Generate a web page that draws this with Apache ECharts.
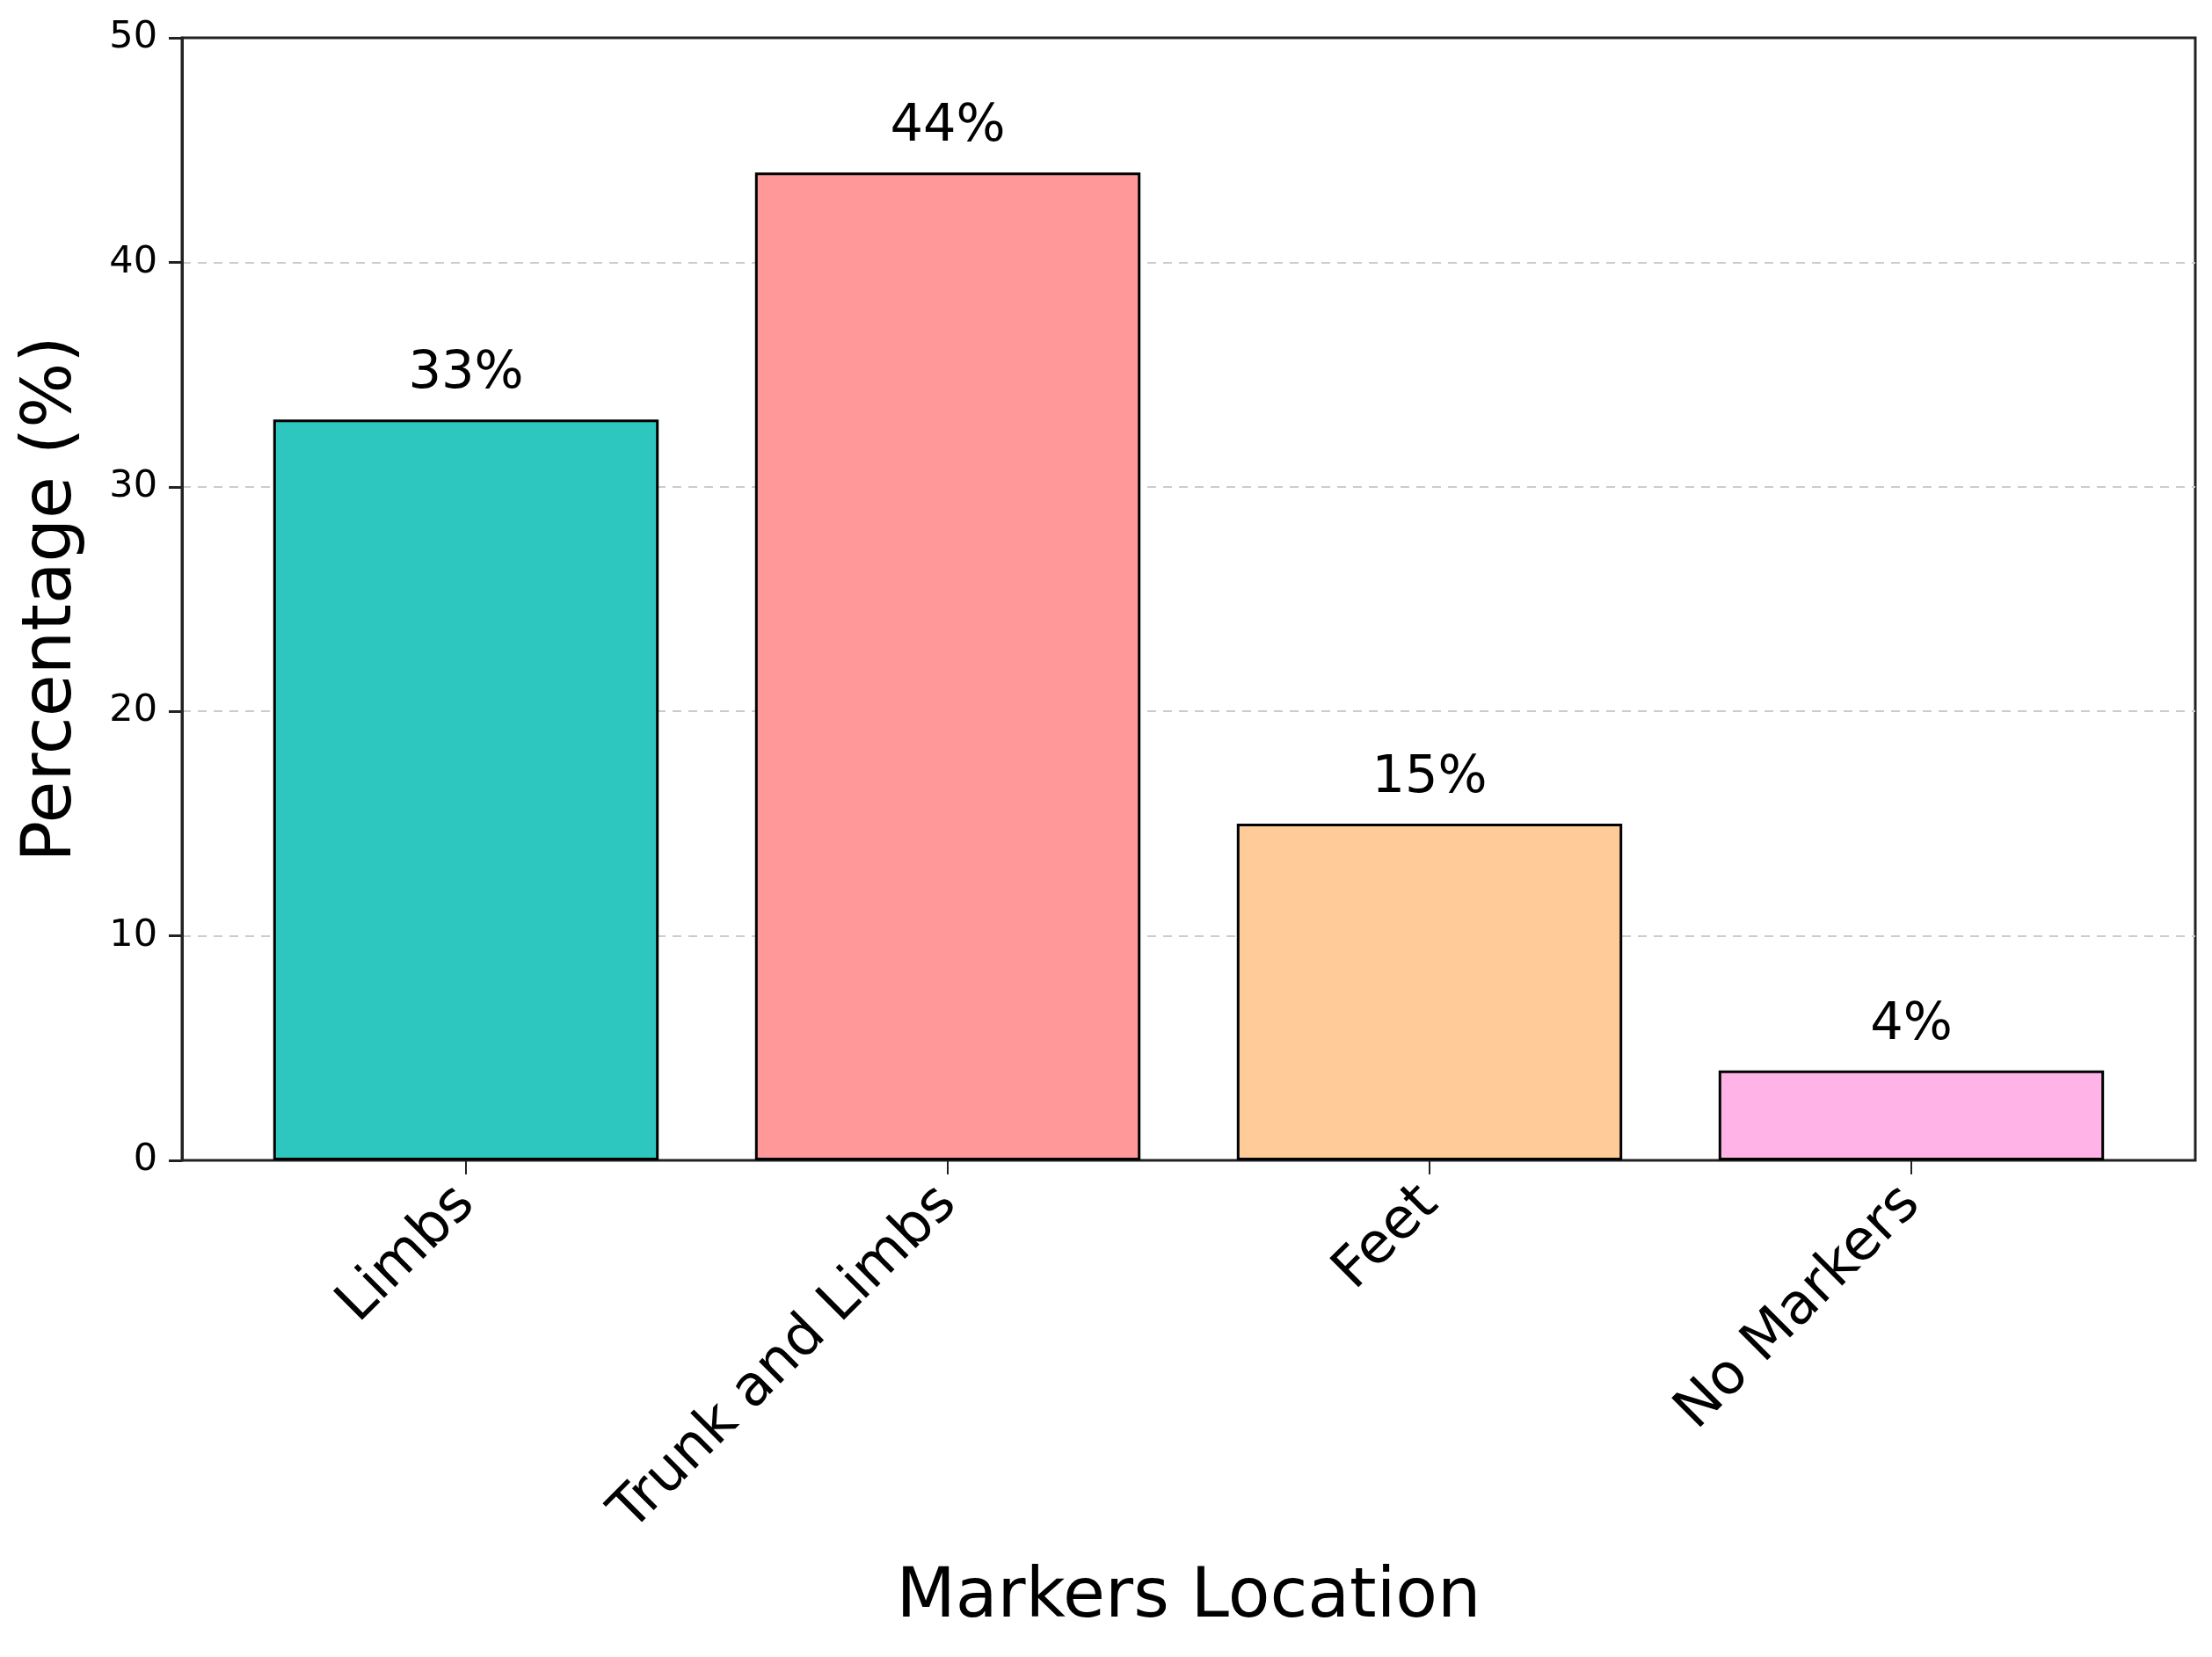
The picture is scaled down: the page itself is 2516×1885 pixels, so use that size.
<!DOCTYPE html>
<html>
<head>
<meta charset="utf-8">
<script src="https://cdn.jsdelivr.net/npm/echarts@6/dist/echarts.min.js"></script>
<style>
  html, body { margin: 0; padding: 0; background: #fff; }
  #chart { width: 2516px; height: 1885px; }
</style>
</head>
<body>
<div id="chart"></div>
<script>
// data
const categories = ['Limbs', 'Trunk and Limbs', 'Feet', 'No Markers']
const percentages = [33, 44, 15, 4]
const barColors = ['#2EC7C0', '#FF9999', '#FFCC99', '#FFB3E6']
const yTicks = [0, 10, 20, 30, 40, 50]

const FONT = 'DejaVu Sans'
const chart = echarts.init(document.getElementById('chart'))

// frame grid (axes box) + inner grid for bars (matplotlib-style side margins)
const frame = { left: 207, right: 19, top: 43, bottom: 565 }
const inset = 49

chart.setOption({
  backgroundColor: '#fff',
  animation: false,
  grid: [
    { left: frame.left, right: frame.right, top: frame.top, bottom: frame.bottom,
      show: true, borderColor: '#222', borderWidth: 3, backgroundColor: 'transparent' },
    { left: frame.left + inset, right: frame.right + inset, top: frame.top, bottom: frame.bottom }
  ],
  xAxis: [
    { gridIndex: 0, type: 'value', min: 0, max: 1, show: false },
    {
      gridIndex: 1, type: 'category', data: categories,
      axisLine: { show: false },
      axisTick: { show: true, alignWithLabel: true, length: 16, lineStyle: { color: '#222', width: 2 } },
      axisLabel: { rotate: 45, margin: 40, fontFamily: FONT, fontSize: 64, color: '#000' },
      name: 'Markers Location', nameLocation: 'middle', nameGap: 460,
      nameTextStyle: { fontFamily: FONT, fontSize: 78, color: '#000' }
    }
  ],
  yAxis: [
    {
      gridIndex: 0, type: 'value', min: yTicks[0], max: yTicks[yTicks.length - 1], interval: 10,
      axisLine: { show: true, lineStyle: { color: '#222', width: 3 } },
      axisTick: { show: true, length: 15, lineStyle: { color: '#222', width: 3 } },
      axisLabel: { fontFamily: FONT, fontSize: 43, color: '#000', margin: 28 },
      splitLine: {
        show: true,
        lineStyle: { color: '#cccccc', width: 2, type: [10, 8] },
        showMinLine: false, showMaxLine: false
      },
      name: 'Percentage (%)', nameLocation: 'middle', nameGap: 108,
      nameTextStyle: { fontFamily: FONT, fontSize: 78, color: '#000' }
    },
    { gridIndex: 1, type: 'value', min: 0, max: 50, show: false }
  ],
  series: [{
    type: 'bar',
    xAxisIndex: 1, yAxisIndex: 1,
    barWidth: '80%',
    data: percentages.map((v, i) => ({
      value: v,
      itemStyle: { color: barColors[i], borderColor: '#000', borderWidth: 3 }
    })),
    label: {
      show: true, position: 'top', distance: 22,
      formatter: '{c}%',
      fontFamily: FONT, fontSize: 59, color: '#000'
    }
  }]
})
</script>
</body>
</html>
